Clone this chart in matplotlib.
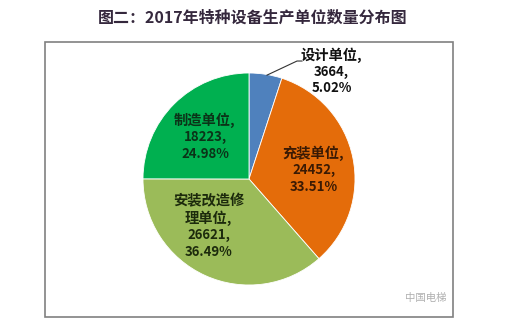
import matplotlib
matplotlib.use('Agg')
import matplotlib.pyplot as plt
from matplotlib.patches import Rectangle

plt.rcParams['font.family'] = ['Noto Sans CJK SC', 'DejaVu Sans']

title = '图二：2017年特种设备生产单位数量分布图'
names = ['设计单位,', '充装单位,', '安装改造修\n理单位,', '制造单位,']
counts = [3664, 24452, 26621, 18223]
shares = ['5.02%', '33.51%', '36.49%', '24.98%']
colors = ['#4F81BD', '#E46C0A', '#9BBB59', '#00B050']
text_colors = ['#111111', '#3a1a04', '#1c2a0c', '#0b3318']

# label anchor (x, y) in pie-radius units, top line of each label
label_pos = [(0.78, 1.17), (0.61, 0.245), (-0.38, -0.21), (-0.415, 0.555)]
line_step = 0.158

W, H = 512, 331
fig = plt.figure(figsize=(W / 100, H / 100), dpi=100)
cx, cy, R = 249, 331 - 179, 106
xl, yl = 1.5, 1.2
ax = fig.add_axes([(cx - xl * R) / W, (cy - yl * R) / H, 2 * xl * R / W, 2 * yl * R / H])

ax.pie(counts, colors=colors, startangle=90, counterclock=False, radius=1.0,
       wedgeprops=dict(edgecolor='white', linewidth=0.6))
ax.set_aspect('auto')
ax.set_xlim(-xl, xl)
ax.set_ylim(-yl, yl)
ax.axis('off')

for name, n, s, (x, y), tc in zip(names, counts, shares, label_pos, text_colors):
    lines = name.split('\n')
    k = 0
    for ln in lines:
        ax.text(x, y - k * line_step, ln, ha='center', va='center',
                fontsize=10.3, fontweight='bold', color=tc)
        k += 1
    ax.text(x, y - k * line_step, f'{n},', ha='center', va='center',
            fontsize=9.5, fontweight='bold', color=tc)
    ax.text(x, y - (k + 1) * line_step, s, ha='center', va='center',
            fontsize=9.5, fontweight='bold', color=tc)

# leader line for the small slice
ax.plot([0.17, 0.453, 0.50], [0.98, 1.113, 1.113], color='#333333', lw=0.8)

fig.text(253 / W, 1 - 18 / H, title, ha='center', va='center',
         fontsize=11.5, fontweight='bold', color='#35283d')

fig.patches.append(Rectangle((45 / W, 1 - 317 / H), (453 - 45) / W, (317 - 42) / H,
                             transform=fig.transFigure, fill=False,
                             edgecolor='#808080', linewidth=1.2))

fig.text(426 / W, 1 - 298 / H, '中国电梯', ha='center', va='center',
         fontsize=7.5, color='#b0b0b0')

fig.savefig('out.png', dpi=100, facecolor='white')
